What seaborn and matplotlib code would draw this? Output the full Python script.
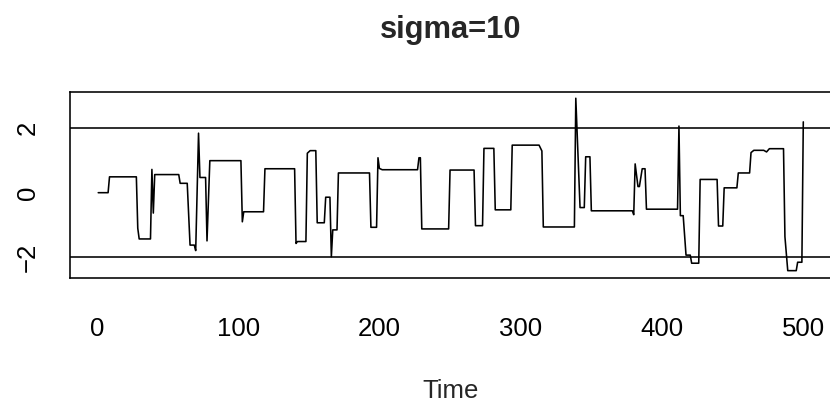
import numpy as np
import pandas as pd
import matplotlib
matplotlib.use("Agg")
import matplotlib.pyplot as plt
import seaborn as sns

# corner points of the (step-like) series
time = [1, 8, 9, 28, 29, 30, 38, 39, 40, 41, 58, 59, 64, 66, 69, 70, 72, 73, 77, 78,
        80, 102, 103, 104, 118, 119, 140, 141, 142, 148, 149, 151, 155, 156, 161, 162,
        165, 166, 167, 170, 171, 193, 194, 198, 199, 200, 202, 227, 228, 229, 230, 249,
        250, 267, 268, 273, 274, 281, 282, 293, 294, 313, 315, 316, 338, 339, 342, 345,
        346, 349, 350, 379, 380, 381, 383, 384, 386, 388, 389, 411, 412, 413, 415, 417,
        420, 421, 426, 427, 439, 440, 443, 444, 453, 454, 462, 463, 465, 472, 474, 476,
        486, 487, 489, 495, 496, 499, 500]
value = [0.00, 0.00, 0.49, 0.49, -1.10, -1.43, -1.43, 0.72, -0.63, 0.56, 0.56, 0.29, 0.29, -1.62, -1.62, -1.79, 1.84, 0.47, 0.47, -1.49,
         0.99, 0.99, -0.90, -0.59, -0.59, 0.74, 0.74, -1.57, -1.51, -1.51, 1.22, 1.30, 1.30, -0.93, -0.93, -0.14,
         -0.14, -1.98, -1.15, -1.15, 0.61, 0.61, -1.07, -1.07, 1.08, 0.75, 0.71, 0.71, 1.08, 1.08, -1.12, -1.12,
         0.70, 0.70, -1.02, -1.02, 1.37, 1.37, -0.53, -0.53, 1.47, 1.47, 1.29, -1.06, -1.06, 2.92, -0.46, -0.46,
         1.11, 1.11, -0.56, -0.56, -0.68, 0.89, 0.19, 0.19, 0.74, 0.74, -0.51, -0.51, 2.06, -0.71, -0.71, -1.93,
         -1.93, -2.18, -2.18, 0.41, 0.41, -1.03, -1.03, 0.15, 0.15, 0.61, 0.61, 1.24, 1.31, 1.31, 1.26, 1.36,
         1.36, -1.36, -2.41, -2.41, -2.15, -2.15, 2.19]

title = "sigma=10"
xlabel = "Time"
x_ticks = [0, 100, 200, 300, 400, 500]
x_tick_labels = ["0", "100", "200", "300", "400", "500"]
y_ticks = [-2, -1, 0, 1, 2, 3]
y_tick_labels = ["\u22122", "", "0", "", "2", ""]
h_lines = [-2, 2]

sns.set_style("white")
plt.rcParams['font.family'] = ['Liberation Sans', 'DejaVu Sans']

W, H = 830, 403
fig = plt.figure(figsize=(W / 100, H / 100), dpi=100)
left, right, top, bottom = 70.0, 831.5, 91.7, 277.7
ax = fig.add_axes([left / W, 1 - bottom / H, (right - left) / W, (bottom - top) / H])

df = pd.DataFrame({"Time": time, "value": value})
sns.lineplot(data=df, x="Time", y="value", ax=ax, color="black", linewidth=1.15,
             estimator=None, sort=False)
for h in h_lines:
    ax.axhline(h, color="black", linewidth=1.15)

ax.set_xlim(-18.96, 519.96)
ax.set_ylim(-2.628, 3.122)
ax.set_xlabel("")
ax.set_ylabel("")
ax.set_xticks(x_ticks)
ax.set_xticklabels(x_tick_labels)
ax.set_yticks(y_ticks)
ax.set_yticklabels(y_tick_labels)

fs = 18.5          # tick / axis label size (pt)
tick_len_px = 15.6
ax.tick_params(axis="both", direction="out", length=tick_len_px * 0.72, width=1.15,
               color="black", labelsize=fs, labelcolor="black")
# x tick labels: baseline ~335 px from top
ax.tick_params(axis="x", pad=(335.5 - bottom - tick_len_px) * 0.72)
for lab in ax.get_xticklabels():
    lab.set_va("baseline")
# y tick labels: rotated, baseline ~35 px from left edge
ax.tick_params(axis="y", pad=(left - tick_len_px - 35) * 0.72)
for lab in ax.get_yticklabels():
    lab.set_rotation(90)
    lab.set_rotation_mode("anchor")
    lab.set_ha("center")
    lab.set_va("baseline")

for s in ax.spines.values():
    s.set_color("black")
    s.set_linewidth(1.15)
ax.grid(False)

fig.text((left + right) / 2 / W, 1 - 38.3 / H, title, ha="center", va="baseline",
         fontsize=22.2, fontweight="bold")
fig.text((left + right) / 2 / W, 1 - 397.5 / H, xlabel, ha="center", va="baseline",
         fontsize=fs)

fig.savefig("out.png", dpi=100)
